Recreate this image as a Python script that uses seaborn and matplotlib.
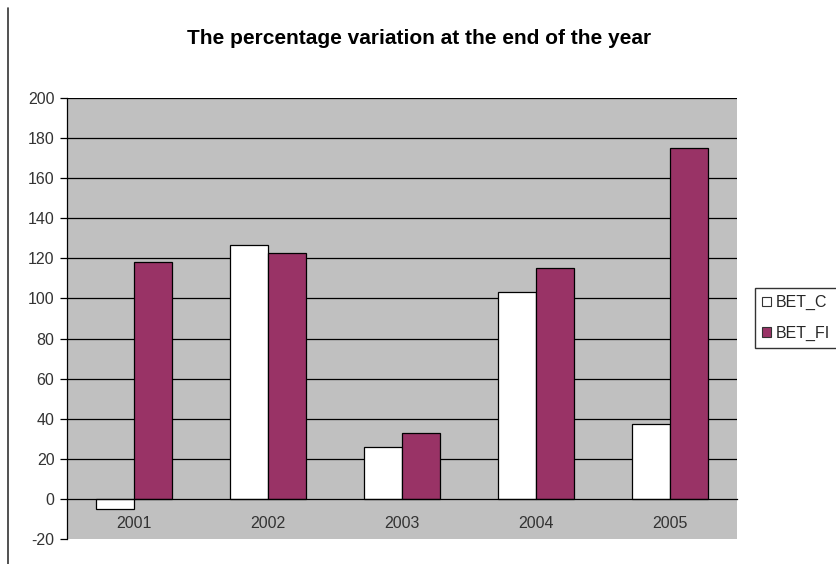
import pandas as pd
import matplotlib.pyplot as plt
import seaborn as sns
from matplotlib.lines import Line2D
from matplotlib.patches import Patch

# Data
years = ['2001', '2002', '2003', '2004', '2005']
bet_c = [-5, 126.5, 26, 103, 37.5]
bet_fi = [118, 122.5, 33, 115, 175]
series = ['BET_C', 'BET_FI']
colors = ['#ffffff', '#993366']
y_ticks = list(range(-20, 201, 20))

df = pd.DataFrame({
    'year': years * 2,
    'value': bet_c + bet_fi,
    'series': [series[0]] * len(years) + [series[1]] * len(years),
})

sns.set_style('white')
plt.rcParams['font.family'] = ['Liberation Sans', 'DejaVu Sans']
plt.rcParams['axes.unicode_minus'] = False

fig = plt.figure(figsize=(8.37, 5.64), dpi=100)
ax = fig.add_axes([67 / 837, 1 - 539 / 564, 670 / 837, 441 / 564])
ax.set_facecolor('#c0c0c0')

sns.barplot(data=df, x='year', y='value', hue='series', palette=colors,
            width=0.57, edgecolor='black', linewidth=0.9, ax=ax,
            saturation=1, legend=False)

ax.set_ylim(-20, 200)
ax.set_xlim(-0.5, 4.5)
ax.set_yticks(y_ticks)
ax.set_yticklabels([str(t) for t in y_ticks])
for y in y_ticks[2:]:
    ax.axhline(y, color='black', linewidth=0.9, zorder=0.5)

# spines like an old Excel chart
ax.spines['top'].set_visible(False)
ax.spines['right'].set_visible(False)
ax.spines['left'].set_color('black')
ax.spines['left'].set_linewidth(0.9)
ax.spines['bottom'].set_position(('data', 0))
ax.spines['bottom'].set_color('black')
ax.spines['bottom'].set_linewidth(0.9)
ax.spines['bottom'].set_zorder(3)

ax.set_xticks(range(len(years)))
ax.set_xticklabels(years)
ax.set_xticks([i + 0.5 for i in range(len(years))], minor=True)
ax.tick_params(axis='x', which='major', length=0, pad=12, labelsize=11.5, colors='#333333')
ax.tick_params(axis='x', which='minor', length=5, direction='out', color='black', width=0.9)
ax.tick_params(axis='y', length=5, direction='out', color='black', width=0.9,
               labelsize=11.5, labelcolor='#333333', pad=4, left=True)
ax.set_xlabel('')
ax.set_ylabel('')
ax.grid(False)

fig.text(419 / 837, 1 - 38 / 564, 'The percentage variation at the end of the year',
         ha='center', va='center', fontsize=15, fontweight='bold', color='black')

handles = [Patch(facecolor=c, edgecolor='#333333', linewidth=0.8) for c in colors]
fig.legend(handles, series, loc='upper left', bbox_to_anchor=(755 / 837, 1 - 288 / 564),
           frameon=True, fancybox=False, edgecolor='black', fontsize=11.5,
           handlelength=0.55, handleheight=0.55, handletextpad=0.3,
           labelspacing=0.95, borderpad=0.45, borderaxespad=0)

# frame line at the left edge of the chart area
fig.add_artist(Line2D([8 / 837, 8 / 837], [0, 1 - 8 / 564], color='#333333', linewidth=1.2))

fig.savefig('out.png', dpi=100)
